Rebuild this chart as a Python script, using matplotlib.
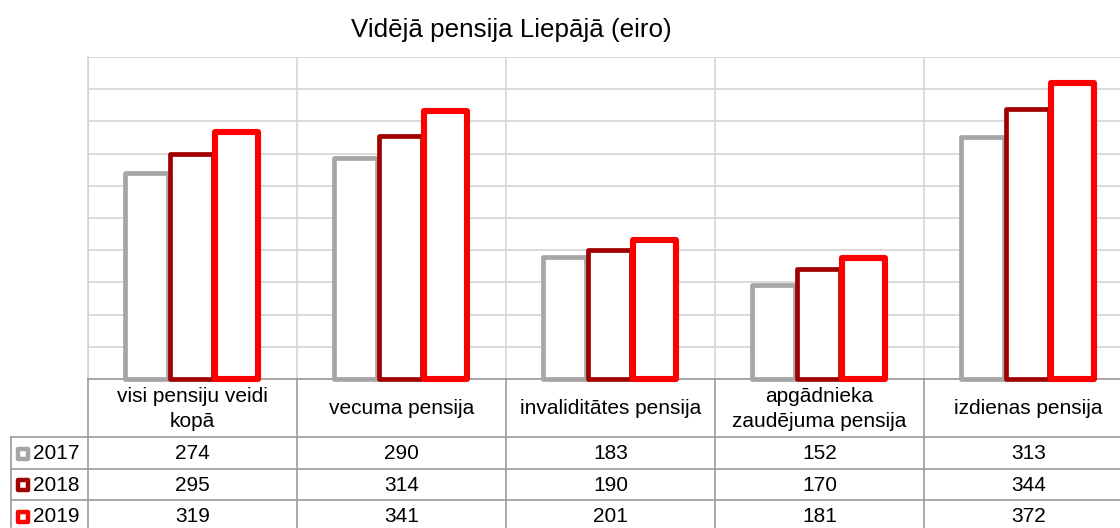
import matplotlib
matplotlib.use("Agg")
import matplotlib.pyplot as plt
import matplotlib.transforms as mtransforms
from matplotlib.markers import MarkerStyle
import numpy as np

plt.rcParams['font.family'] = ['Liberation Sans', 'DejaVu Sans']

title = "Vidējā pensija Liepājā (eiro)"
categories = ["visi pensiju veidi\nkopā", "vecuma pensija", "invaliditātes pensija",
              "apgādnieka\nzaudējuma pensija", "izdienas pensija"]
years = ["2017", "2018", "2019"]
v2017 = [274, 290, 183, 152, 313]
v2018 = [295, 314, 190, 170, 344]
v2019 = [319, 341, 201, 181, 372]
series = [v2017, v2018, v2019]
colors = ["#a6a6a6", "#a00000", "#ff0000"]
lws = [3.4, 3.4, 4.4]
ymin, ymax, ystep = 50, 400, 35

W, H = 1120, 528
fig = plt.figure(figsize=(W / 100, H / 100), dpi=100)

def fx(px):
    return px / W

def fy(py):
    return 1 - py / H

ax = fig.add_axes([fx(88), fy(379), fx(1133) - fx(88), fy(57) - fy(379)])
x = np.arange(len(categories))
offsets = [-0.22, -0.005, 0.21]
bw = 0.205
for vals, c, lw, off in zip(series, colors, lws, offsets):
    h = [v - ymin for v in vals]
    ax.bar(x + off, h, bw, bottom=ymin, facecolor="white", edgecolor=c,
           linewidth=lw, joinstyle="round", zorder=3, clip_on=False)

ax.set_xlim(-0.5, len(categories) - 0.5)
ax.set_ylim(ymin, ymax)
ax.set_yticks(np.arange(ymin, ymax + 1, ystep))
ax.set_xticks(np.arange(-0.5, len(categories), 1.0))
ax.tick_params(length=0, labelleft=False, labelbottom=False)
ax.grid(True, color="#d4d4d4", linewidth=1.2, zorder=0)
for s in ["top", "right"]:
    ax.spines[s].set_visible(False)
ax.spines["left"].set_color("#d4d4d4")
ax.spines["left"].set_linewidth(1.2)
ax.spines["bottom"].set_color("#9a9a9a")
ax.spines["bottom"].set_linewidth(1.2)

fig.text(fx(511.5), fy(30), title, ha="center", va="center", fontsize=18.7)

# Data table below the axis
blend = mtransforms.blended_transform_factory(ax.transData, fig.transFigure)
line_c = "#9a9a9a"
row_tops = [437, 468.5, 500, 531.5]
fs = 15
# category labels
for i, cat in enumerate(categories):
    fig.text(i, fy(409), cat, transform=blend, ha="center", va="center",
             fontsize=fs, linespacing=1.35)
# vertical lines at category boundaries
for b in np.arange(-0.5, len(categories), 1.0):
    fig.add_artist(plt.Line2D([b, b], [fy(379), fy(540)], transform=blend,
                              color=line_c, linewidth=1.2, clip_on=False))
# left border of row label column
fig.add_artist(plt.Line2D([fx(11), fx(11)], [fy(437), fy(540)],
                          transform=fig.transFigure, color=line_c, linewidth=1.2))
# horizontal lines
for yt in row_tops[:-1]:
    fig.add_artist(plt.Line2D([fx(11), fx(1125)], [fy(yt), fy(yt)],
                              transform=fig.transFigure, color=line_c, linewidth=1.2))
# rows
mk = MarkerStyle("s", joinstyle="round")
for r, (yr, vals, c) in enumerate(zip(years, series, colors)):
    yc = (row_tops[r] + row_tops[r + 1]) / 2 + 1
    fig.add_artist(plt.Line2D([fx(23.5)], [fy(yc)], transform=fig.transFigure,
                              marker=mk, markersize=7.2, markerfacecolor="white",
                              markeredgecolor=c, markeredgewidth=3.2, linestyle="none"))
    fig.text(fx(32.5), fy(yc), yr, ha="left", va="center", fontsize=fs)
    for i, v in enumerate(vals):
        fig.text(i, fy(yc), str(v), transform=blend, ha="center", va="center", fontsize=fs)

fig.savefig("out.png", dpi=100)
